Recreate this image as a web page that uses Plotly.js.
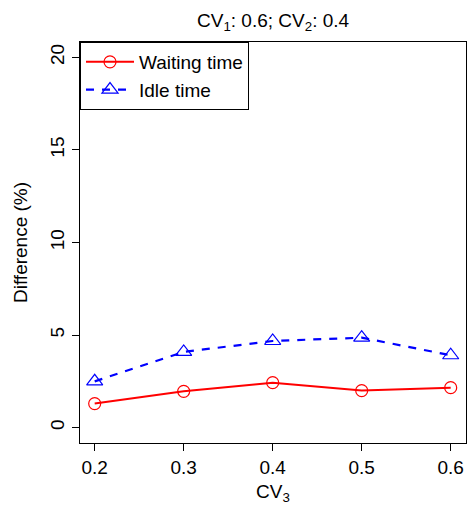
<!DOCTYPE html>
<html>
<head>
<meta charset="utf-8">
<script src="https://cdn.plot.ly/plotly-3.0.1.min.js"></script>
<style>html,body{margin:0;padding:0;background:#fff;}#chart{width:470px;height:505px;}</style>
</head>
<body>
<div id="chart"></div>
<script>
const cv3 = [0.2, 0.3, 0.4, 0.5, 0.6];
const waitingTime = [1.30, 1.96, 2.43, 2.00, 2.16];
const idleTime = [2.50, 4.09, 4.68, 4.86, 3.91];
const xTicks = [0.2, 0.3, 0.4, 0.5, 0.6];
const xTickLabels = ["0.2", "0.3", "0.4", "0.5", "0.6"];
const yTicks = [0, 5, 10, 15, 20];
const yTickLabels = ["0", "5", "10", "15", "20"];

const font = "Liberation Sans, Arial, Helvetica, sans-serif";

const traces = [
  {
    x: cv3, y: waitingTime, name: "Waiting time", type: "scatter", mode: "lines+markers",
    line: {color: "#ff0000", width: 2, dash: "solid"},
    marker: {symbol: "circle-open", size: 12, color: "#ff0000", line: {width: 1.2, color: "#ff0000"}}
  },
  {
    x: cv3, y: idleTime, name: "Idle time", type: "scatter", mode: "lines+markers",
    line: {color: "#0000ff", width: 2.2, dash: "8px,8px"},
    marker: {symbol: "triangle-up-open", size: 14, color: "#0000ff", line: {width: 1.2, color: "#0000ff"}}
  }
];

const layout = {
  width: 470, height: 505,
  margin: {l: 80, r: 4, t: 42, b: 62},
  paper_bgcolor: "#ffffff", plot_bgcolor: "#ffffff",
  font: {family: font, color: "#000000", size: 19},
  title: {text: "CV<sub>1</sub>: 0.6; CV<sub>2</sub>: 0.4", x: 0.581, xanchor: "center", y: 0.96, yanchor: "middle", font: {size: 19}},
  showlegend: true,
  legend: {
    x: 0, y: 1, xanchor: "left", yanchor: "top",
    bgcolor: "#ffffff", bordercolor: "#000000", borderwidth: 1,
    font: {size: 19}, tracegroupgap: 0, itemwidth: 48
  },
  xaxis: {
    range: [0.1835, 0.6172],
    tickvals: xTicks, ticktext: xTickLabels,
    ticks: "outside", ticklen: 7, tickwidth: 1, tickcolor: "#000",
    showgrid: false, zeroline: false,
    showline: true, linecolor: "#000", linewidth: 1, mirror: true,
    tickfont: {size: 19},
    title: {text: "CV<sub>3</sub>", font: {size: 19}, standoff: 10}
  },
  yaxis: {
    range: [-0.83, 20.83],
    tickvals: yTicks, ticktext: yTickLabels,
    tickangle: -90,
    ticks: "outside", ticklen: 7, tickwidth: 1, tickcolor: "#000",
    showgrid: false, zeroline: false,
    showline: true, linecolor: "#000", linewidth: 1, mirror: true,
    tickfont: {size: 19},
    title: {text: "Difference (%)", font: {size: 19}, standoff: 14}
  }
};

Plotly.newPlot("chart", traces, layout, {displayModeBar: false, staticPlot: true});
</script>
</body>
</html>
